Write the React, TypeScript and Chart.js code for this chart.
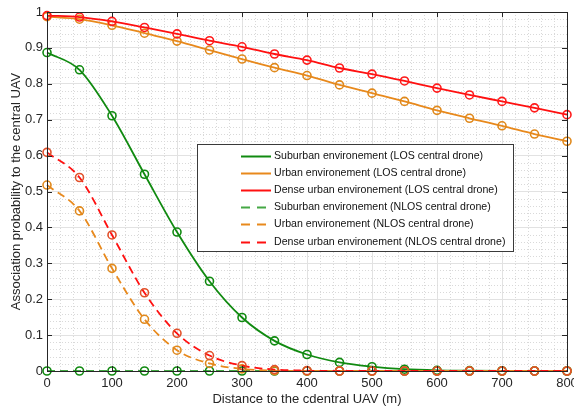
import React, { useEffect, useRef } from "react";
import { Chart, registerables } from "chart.js";
Chart.register(...registerables);

const distances = [0, 50, 100, 150, 200, 250, 300, 350, 400, 450, 500, 550, 600, 650, 700, 750, 800];
const suburbanLOS = [0.887, 0.839, 0.711, 0.548, 0.387, 0.25, 0.149, 0.084, 0.046, 0.024, 0.012, 0.005, 0.002, 0.001, 0.0004, 0.0001, 0];
const urbanLOS = [0.987, 0.98, 0.963, 0.941, 0.919, 0.894, 0.869, 0.845, 0.823, 0.797, 0.774, 0.751, 0.726, 0.704, 0.683, 0.66, 0.64];
const denseLOS = [0.99, 0.986, 0.974, 0.957, 0.939, 0.92, 0.903, 0.883, 0.866, 0.844, 0.827, 0.808, 0.788, 0.769, 0.751, 0.733, 0.714];
const suburbanNLOS = [0, 0, 0, 0, 0, 0, 0, 0, 0, 0, 0, 0, 0, 0, 0, 0, 0];
const urbanNLOS = [0.518, 0.446, 0.286, 0.144, 0.058, 0.021, 0.006, 0.001, 0, 0, 0, 0, 0, 0, 0, 0, 0];
const denseNLOS = [0.609, 0.539, 0.379, 0.218, 0.105, 0.043, 0.015, 0.004, 0.001, 0, 0, 0, 0, 0, 0, 0, 0];

const seriesLabels = [
  "Suburban environement (LOS central drone)",
  "Urban environement (LOS central drone)",
  "Dense urban environement (LOS central drone)",
  "Suburban environement (NLOS central drone)",
  "Urban environement (NLOS central drone)",
  "Dense urban environement (NLOS central drone)",
];
const seriesValues = [suburbanLOS, urbanLOS, denseLOS, suburbanNLOS, urbanNLOS, denseNLOS];
const lineColors = ["#108a10", "#e8891c", "#ff1010", "#45a845", "#e8891c", "#ff1010"];
const markerColors = ["#108a10", "#e0891c", "#ff1a1a", "#108a10", "#e0891c", "#e2502a"];
const dashed = [false, false, false, true, true, true];

const xTickLabels = ["0", "100", "200", "300", "400", "500", "600", "700", "800"];
const yTickLabels = ["0", "0.1", "0.2", "0.3", "0.4", "0.5", "0.6", "0.7", "0.8", "0.9", "1"];

const FONT = "'Liberation Sans', Arial, sans-serif";

const minorGridPlugin = {
  id: "minorGrid",
  beforeDatasetsDraw(chart: any) {
    const { ctx, chartArea: a, scales } = chart;
    const xs = scales.x, ys = scales.y;
    ctx.save();
    ctx.strokeStyle = "#d9d9d9";
    ctx.lineWidth = 1;
    ctx.setLineDash([1, 2]);
    for (let v = 0; v <= 800; v += 20) {
      if (v % 100 === 0) continue;
      const px = Math.round(xs.getPixelForValue(v)) + 0.5;
      ctx.beginPath();
      ctx.moveTo(px, a.top);
      ctx.lineTo(px, a.bottom);
      ctx.stroke();
    }
    for (let i = 0; i <= 50; i++) {
      if (i % 5 === 0) continue;
      const py = Math.round(ys.getPixelForValue(i * 0.02)) + 0.5;
      ctx.beginPath();
      ctx.moveTo(a.left, py);
      ctx.lineTo(a.right, py);
      ctx.stroke();
    }
    ctx.restore();
  },
};

const framePlugin = {
  id: "frame",
  afterDatasetsDraw(chart: any) {
    const { ctx, chartArea: a, scales } = chart;
    const xs = scales.x, ys = scales.y;
    ctx.save();
    ctx.strokeStyle = "#262626";
    ctx.lineWidth = 1;
    ctx.setLineDash([]);
    ctx.strokeRect(Math.round(a.left) + 0.5, Math.round(a.top) + 0.5, Math.round(a.right - a.left), Math.round(a.bottom - a.top));
    const tl = 5;
    ctx.beginPath();
    for (let v = 0; v <= 800; v += 100) {
      const px = Math.round(xs.getPixelForValue(v)) + 0.5;
      ctx.moveTo(px, a.bottom);
      ctx.lineTo(px, a.bottom - tl);
      ctx.moveTo(px, a.top);
      ctx.lineTo(px, a.top + tl);
    }
    for (let i = 0; i <= 10; i++) {
      const py = Math.round(ys.getPixelForValue(i / 10)) + 0.5;
      ctx.moveTo(a.left, py);
      ctx.lineTo(a.left + tl, py);
      ctx.moveTo(a.right, py);
      ctx.lineTo(a.right - tl, py);
    }
    ctx.stroke();
    ctx.restore();
  },
};

const legendPlugin = {
  id: "boxLegend",
  afterDraw(chart: any) {
    const { ctx, chartArea: a } = chart;
    const bx = a.left + 150;
    const by = a.top + 132;
    const bw = 316;
    const bh = 107;
    ctx.save();
    ctx.fillStyle = "#ffffff";
    ctx.fillRect(bx, by, bw, bh);
    ctx.strokeStyle = "#3a3a3a";
    ctx.lineWidth = 1;
    ctx.strokeRect(Math.round(bx) + 0.5, Math.round(by) + 0.5, bw, bh);
    ctx.font = `10.6px ${FONT}`;
    ctx.textBaseline = "middle";
    ctx.fillStyle = "#111111";
    chart.data.datasets.forEach((ds: any, i: number) => {
      const ry = Math.round(by + 12 + i * 17.1) + 0.5;
      ctx.strokeStyle = ds.borderColor;
      ctx.lineWidth = 2;
      ctx.setLineDash(ds.borderDash && ds.borderDash.length ? [9, 7] : []);
      ctx.beginPath();
      ctx.moveTo(bx + 44, ry);
      ctx.lineTo(bx + 74, ry);
      ctx.stroke();
      ctx.setLineDash([]);
      ctx.fillText(ds.label, bx + 77, ry);
    });
    ctx.restore();
  },
};

export default function App() {
  const canvasRef = useRef<HTMLCanvasElement | null>(null);

  useEffect(() => {
    document.body.style.margin = "0";
    const canvas = canvasRef.current;
    if (!canvas) return;
    const datasets = seriesValues.map((vals, i) => ({
      label: seriesLabels[i],
      data: distances.map((d, j) => ({ x: d, y: vals[j] })),
      borderColor: lineColors[i],
      backgroundColor: "transparent",
      borderWidth: 1.8,
      borderDash: dashed[i] ? [8, 5] : [],
      pointRadius: 4,
      pointBorderWidth: 1.6,
      pointBorderColor: markerColors[i],
      pointBackgroundColor: "rgba(0,0,0,0)",
      pointStyle: "circle",
      cubicInterpolationMode: "monotone" as const,
      fill: false,
      clip: false as any,
      order: 6 - i,
    }));

    const chart = new Chart(canvas, {
      type: "line",
      data: { datasets },
      options: {
        animation: false,
        responsive: false,
        maintainAspectRatio: false,
        layout: { padding: { top: 12, right: 7, bottom: 0, left: 0 } },
        plugins: { legend: { display: false }, tooltip: { enabled: false } },
        scales: {
          x: {
            type: "linear",
            min: 0,
            max: 800,
            afterFit: (s: any) => {
              s.height = 37;
              s.paddingLeft = 0;
              s.paddingRight = 0;
            },
            ticks: {
              stepSize: 100,
              padding: 5,
              color: "#262626",
              font: { family: FONT, size: 13 },
              maxRotation: 0,
              autoSkip: false,
              callback: (_v: any, idx: number) => xTickLabels[idx],
            },
            grid: { color: "#e2e2e2", drawTicks: false, lineWidth: 1 },
            border: { display: false },
            title: {
              display: true,
              text: "Distance to the cdentral UAV (m)",
              color: "#262626",
              font: { family: FONT, size: 13 },
              padding: { top: 0, bottom: 1 },
            },
          },
          y: {
            type: "linear",
            min: 0,
            max: 1,
            afterFit: (s: any) => {
              s.width = 47;
              s.paddingTop = 0;
              s.paddingBottom = 0;
            },
            ticks: {
              stepSize: 0.1,
              padding: 4,
              color: "#262626",
              font: { family: FONT, size: 13 },
              autoSkip: false,
              callback: (_v: any, idx: number) => yTickLabels[idx],
            },
            grid: { color: "#e2e2e2", drawTicks: false, lineWidth: 1 },
            border: { display: false },
            title: {
              display: true,
              text: "Association probability to the central UAV",
              color: "#262626",
              font: { family: FONT, size: 13 },
              padding: { top: 9, bottom: 0 },
            },
          },
        },
      },
      plugins: [minorGridPlugin, framePlugin, legendPlugin],
    });
    return () => chart.destroy();
  }, []);

  return (
    <div style={{ width: 574, height: 408 }}>
      <canvas ref={canvasRef} width={574} height={408} style={{ display: "block" }} />
    </div>
  );
}
